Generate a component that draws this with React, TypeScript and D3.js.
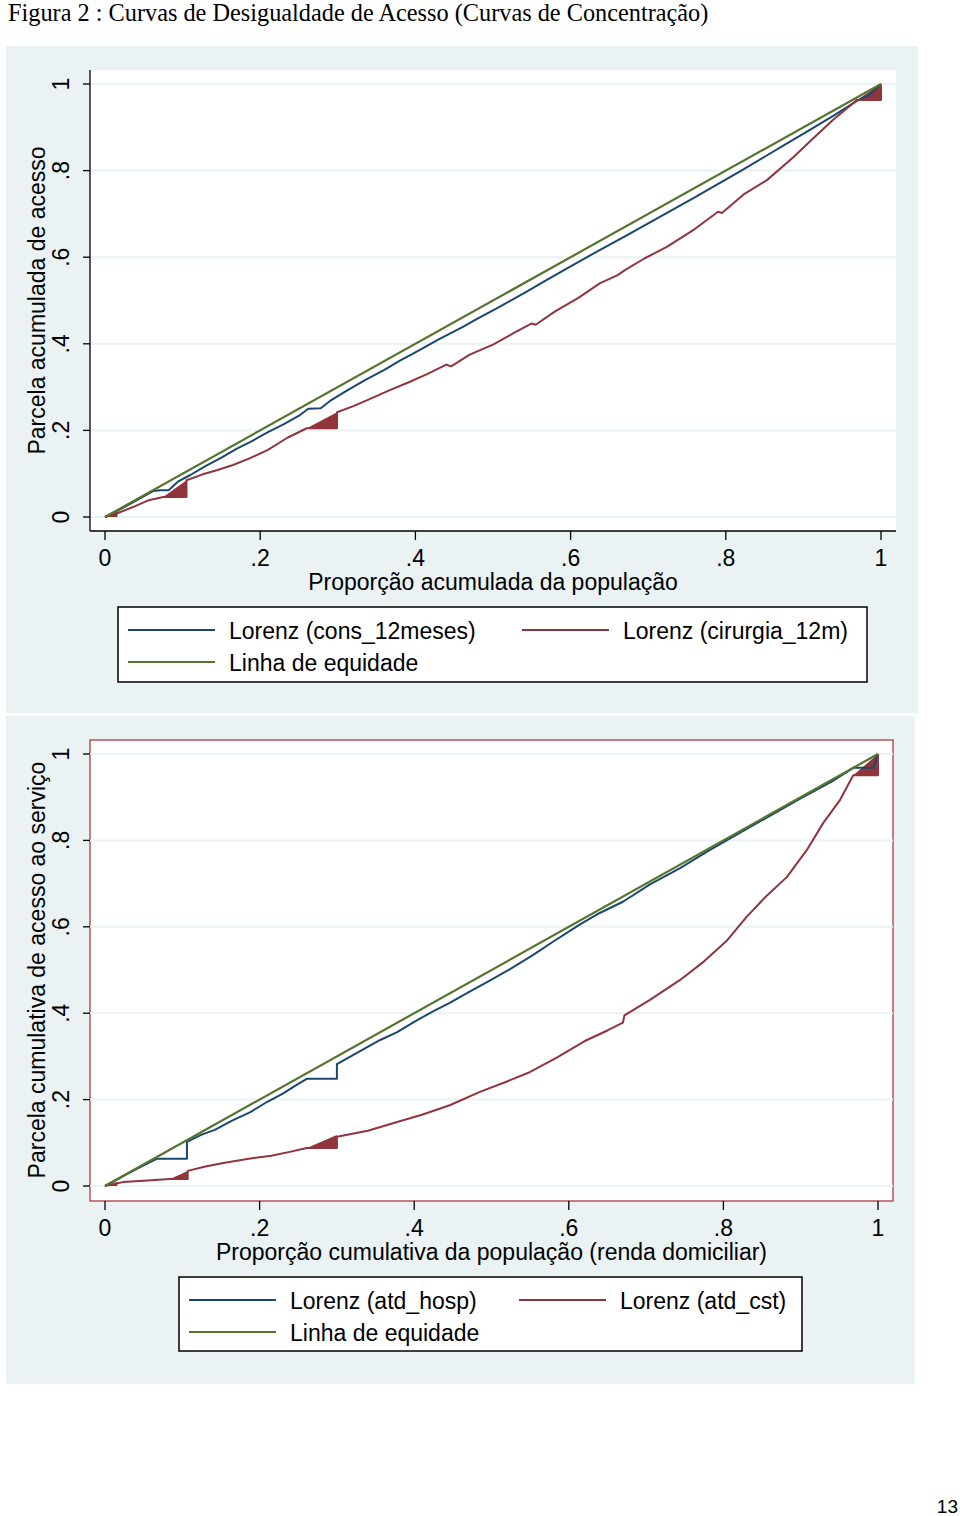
import React from "react";
import * as d3 from "d3";

type P = [number, number];

const tickValues = [0, 0.2, 0.4, 0.6, 0.8, 1];
const tickLabels = ["0", ".2", ".4", ".6", ".8", "1"];

const titleText = "Figura 2 : Curvas de Desigualdade de Acesso (Curvas de Concentração)";
const pageNumber = "13";

// Panel 1
const p1YTitle = "Parcela acumulada de acesso";
const p1XTitle = "Proporção acumulada da população";
const p1Names = ["Lorenz (cons_12meses)", "Lorenz (cirurgia_12m)", "Linha de equidade"];
const p1Blue: P[] = [
  [0, 0], [0.02, 0.018], [0.04, 0.038], [0.062, 0.06], [0.071, 0.062], [0.082, 0.062], [0.095, 0.083],
  [0.11, 0.097], [0.13, 0.118], [0.15, 0.137], [0.17, 0.158], [0.19, 0.176], [0.21, 0.196], [0.23, 0.214],
  [0.25, 0.234], [0.262, 0.25], [0.278, 0.251], [0.29, 0.268], [0.31, 0.29], [0.335, 0.316], [0.36, 0.34],
  [0.38, 0.361], [0.40, 0.38], [0.43, 0.41], [0.46, 0.438], [0.48, 0.458], [0.509, 0.486], [0.54, 0.517],
  [0.57, 0.548], [0.60, 0.579], [0.638, 0.617], [0.67, 0.648], [0.70, 0.678], [0.73, 0.708], [0.76, 0.738],
  [0.788, 0.767], [0.82, 0.80], [0.85, 0.832], [0.88, 0.864], [0.91, 0.896], [0.94, 0.928], [0.97, 0.962],
  [0.985, 0.975], [1, 1],
];
const p1Red: P[] = [
  [0, 0], [0.015, 0.008], [0.036, 0.023], [0.055, 0.038], [0.075, 0.046], [0.105, 0.046], [0.105, 0.085],
  [0.125, 0.098], [0.144, 0.108], [0.165, 0.12], [0.187, 0.136], [0.21, 0.155], [0.235, 0.183], [0.26, 0.205],
  [0.299, 0.205], [0.299, 0.242], [0.32, 0.256], [0.338, 0.27], [0.367, 0.293], [0.39, 0.31], [0.415, 0.33],
  [0.44, 0.352], [0.446, 0.348], [0.47, 0.375], [0.50, 0.398], [0.527, 0.425], [0.55, 0.447], [0.555, 0.444],
  [0.58, 0.475], [0.61, 0.506], [0.638, 0.54], [0.66, 0.558], [0.67, 0.57], [0.695, 0.597], [0.724, 0.624],
  [0.76, 0.665], [0.79, 0.705], [0.795, 0.702], [0.823, 0.745], [0.853, 0.778], [0.887, 0.831], [0.91, 0.87],
  [0.938, 0.917], [0.969, 0.963], [1, 0.963], [1, 1],
];
// step wedges (x1, x2, y1, y2) of the red curve
const p1RedWedges = [
  [0, 0.016, 0, 0.012],
  [0.075, 0.105, 0.046, 0.085],
  [0.26, 0.299, 0.205, 0.242],
  [0.969, 1, 0.963, 1],
];

// Panel 2
const p2YTitle = "Parcela cumulativa de acesso ao serviço";
const p2XTitle = "Proporção cumulativa da população (renda domiciliar)";
const p2Names = ["Lorenz (atd_hosp)", "Lorenz (atd_cst)", "Linha de equidade"];
const p2Blue: P[] = [
  [0, 0], [0.03, 0.029], [0.05, 0.048], [0.067, 0.063], [0.106, 0.063], [0.106, 0.102], [0.125, 0.119],
  [0.142, 0.13], [0.165, 0.152], [0.188, 0.171], [0.21, 0.195], [0.23, 0.214], [0.248, 0.234], [0.261, 0.248],
  [0.30, 0.248], [0.30, 0.282], [0.33, 0.312], [0.356, 0.338], [0.378, 0.356], [0.40, 0.38], [0.425, 0.405],
  [0.446, 0.424], [0.47, 0.448], [0.50, 0.478], [0.524, 0.502], [0.554, 0.535], [0.58, 0.566], [0.614, 0.605],
  [0.64, 0.632], [0.67, 0.658], [0.705, 0.698], [0.744, 0.736], [0.78, 0.775], [0.82, 0.816], [0.86, 0.857],
  [0.90, 0.897], [0.94, 0.936], [0.968, 0.968], [0.994, 0.968], [1, 1],
];
const p2Red: P[] = [
  [0, 0], [0.023, 0.009], [0.05, 0.012], [0.084, 0.016], [0.107, 0.016], [0.107, 0.035], [0.13, 0.045],
  [0.153, 0.053], [0.19, 0.064], [0.215, 0.07], [0.239, 0.079], [0.261, 0.088], [0.30, 0.088], [0.30, 0.114],
  [0.34, 0.128], [0.378, 0.148], [0.41, 0.165], [0.446, 0.187], [0.485, 0.218], [0.52, 0.242], [0.55, 0.264],
  [0.585, 0.298], [0.62, 0.335], [0.65, 0.36], [0.67, 0.378], [0.672, 0.395], [0.705, 0.431], [0.744, 0.477],
  [0.775, 0.52], [0.805, 0.569], [0.83, 0.623], [0.855, 0.67], [0.882, 0.715], [0.908, 0.778], [0.929, 0.84],
  [0.951, 0.894], [0.968, 0.951], [1, 0.951], [1, 1],
];
const p2RedWedges = [
  [0, 0.016, 0, 0.01],
  [0.084, 0.107, 0.016, 0.035],
  [0.261, 0.30, 0.088, 0.118],
  [0.968, 1, 0.951, 1],
];
const equality: P[] = [[0, 0], [1, 1]];

const BLUE = "#1a476f";
const RED = "#90353b";
const GREEN = "#55752f";
const BG = "#eaf2f3";
const FONT = "'Liberation Sans', Arial, sans-serif";

interface PanelProps {
  bg: [number, number, number, number];
  plot: [number, number, number, number];
  xr: [number, number];
  yr: [number, number];
  blue: P[];
  red: P[];
  wedges: number[][];
  names: string[];
  xTitle: string;
  yTitle: string;
  border: boolean;
  legend: [number, number, number, number];
  legendCols: [number, number];
}

function Panel(p: PanelProps) {
  const x = d3.scaleLinear().domain([0, 1]).range(p.xr);
  const y = d3.scaleLinear().domain([0, 1]).range(p.yr);
  const line = d3.line<P>().x((d) => x(d[0])).y((d) => y(d[1]));
  const [px0, py0, px1, py1] = p.plot;
  const [lx0, ly0, lx1, ly1] = p.legend;
  const row1 = ly0 + 23;
  const row2 = ly0 + 55;
  const fs = 23;
  return (
    <g>
      <rect x={p.bg[0]} y={p.bg[1]} width={p.bg[2] - p.bg[0]} height={p.bg[3] - p.bg[1]} fill={BG} />
      <rect x={px0} y={py0} width={px1 - px0} height={py1 - py0} fill="#fff"
        stroke={p.border ? "#b0393f" : "none"} strokeWidth={1.3} />
      {tickValues.map((t) => (
        <line key={"g" + t} x1={px0} x2={px1} y1={y(t)} y2={y(t)} stroke={BG} strokeWidth={2} />
      ))}
      {!p.border && (
        <g stroke="#000" strokeWidth={1.3}>
          <line x1={px0} x2={px0} y1={py0} y2={py1} />
          <line x1={px0} x2={px1} y1={py1} y2={py1} />
        </g>
      )}
      {tickValues.map((t, i) => (
        <g key={"y" + t}>
          <line x1={px0 - 7} x2={px0} y1={y(t)} y2={y(t)} stroke="#000" strokeWidth={1.3} />
          <text transform={`translate(${px0 - 21},${y(t)}) rotate(-90)`} textAnchor="middle"
            fontFamily={FONT} fontSize={fs} fill="#000">{tickLabels[i]}</text>
        </g>
      ))}
      {tickValues.map((t, i) => (
        <g key={"x" + t}>
          <line x1={x(t)} x2={x(t)} y1={py1} y2={py1 + 9} stroke="#000" strokeWidth={1.3} />
          <text x={x(t)} y={py1 + 35} textAnchor="middle" fontFamily={FONT} fontSize={fs} fill="#000">{tickLabels[i]}</text>
        </g>
      ))}
      <text transform={`translate(${px0 - 45},${(y(0) + y(1)) / 2}) rotate(-90)`} textAnchor="middle"
        fontFamily={FONT} fontSize={fs} fill="#000">{p.yTitle}</text>
      <text x={(x(0) + x(1)) / 2} y={py1 + 59} textAnchor="middle" fontFamily={FONT} fontSize={fs} fill="#000">{p.xTitle}</text>

      {p.wedges.map((w, i) => (
        <path key={"w" + i} d={`M${x(w[0])},${y(w[2])}L${x(w[1])},${y(w[2])}L${x(w[1])},${y(w[3])}Z`} fill={RED} />
      ))}
      <path d={line(p.blue) || ""} fill="none" stroke={BLUE} strokeWidth={2} strokeLinejoin="round" />
      <path d={line(p.red) || ""} fill="none" stroke={RED} strokeWidth={2} strokeLinejoin="round" />
      <path d={line(equality) || ""} fill="none" stroke={GREEN} strokeWidth={2.2} />

      <rect x={lx0} y={ly0} width={lx1 - lx0} height={ly1 - ly0} fill="#fff" stroke="#000" strokeWidth={1.5} />
      <line x1={lx0 + 10} x2={lx0 + 97} y1={row1} y2={row1} stroke={BLUE} strokeWidth={2} />
      <text x={lx0 + 111} y={row1 + 9} fontFamily={FONT} fontSize={fs}>{p.names[0]}</text>
      <line x1={p.legendCols[1]} x2={p.legendCols[1] + 87} y1={row1} y2={row1} stroke={RED} strokeWidth={2} />
      <text x={p.legendCols[1] + 101} y={row1 + 9} fontFamily={FONT} fontSize={fs}>{p.names[1]}</text>
      <line x1={lx0 + 10} x2={lx0 + 97} y1={row2} y2={row2} stroke={GREEN} strokeWidth={2} />
      <text x={lx0 + 111} y={row2 + 9} fontFamily={FONT} fontSize={fs}>{p.names[2]}</text>
    </g>
  );
}

export default function App() {
  return (
    <svg width={960} height={1516} style={{ position: "absolute", left: 0, top: 0, background: "#fff" }}>
      <text x={8} y={21} fontFamily="'Liberation Serif', 'Times New Roman', serif" fontSize={24.3} fill="#000">{titleText}</text>
      <Panel bg={[6, 46, 918, 713]} plot={[90, 70, 896, 531]} xr={[105, 881]} yr={[517, 84]}
        blue={p1Blue} red={p1Red} wedges={p1RedWedges} names={p1Names} xTitle={p1XTitle} yTitle={p1YTitle}
        border={false} legend={[118, 607, 867, 682]} legendCols={[128, 522]} />
      <Panel bg={[6, 716, 915, 1384]} plot={[90, 740, 893, 1201]} xr={[105, 878]} yr={[1186, 754]}
        blue={p2Blue} red={p2Red} wedges={p2RedWedges} names={p2Names} xTitle={p2XTitle} yTitle={p2YTitle}
        border={true} legend={[179, 1277, 802, 1351]} legendCols={[189, 519]} />
      <text x={958} y={1513} textAnchor="end" fontFamily={FONT} fontSize={19} fill="#000">{pageNumber}</text>
    </svg>
  );
}
